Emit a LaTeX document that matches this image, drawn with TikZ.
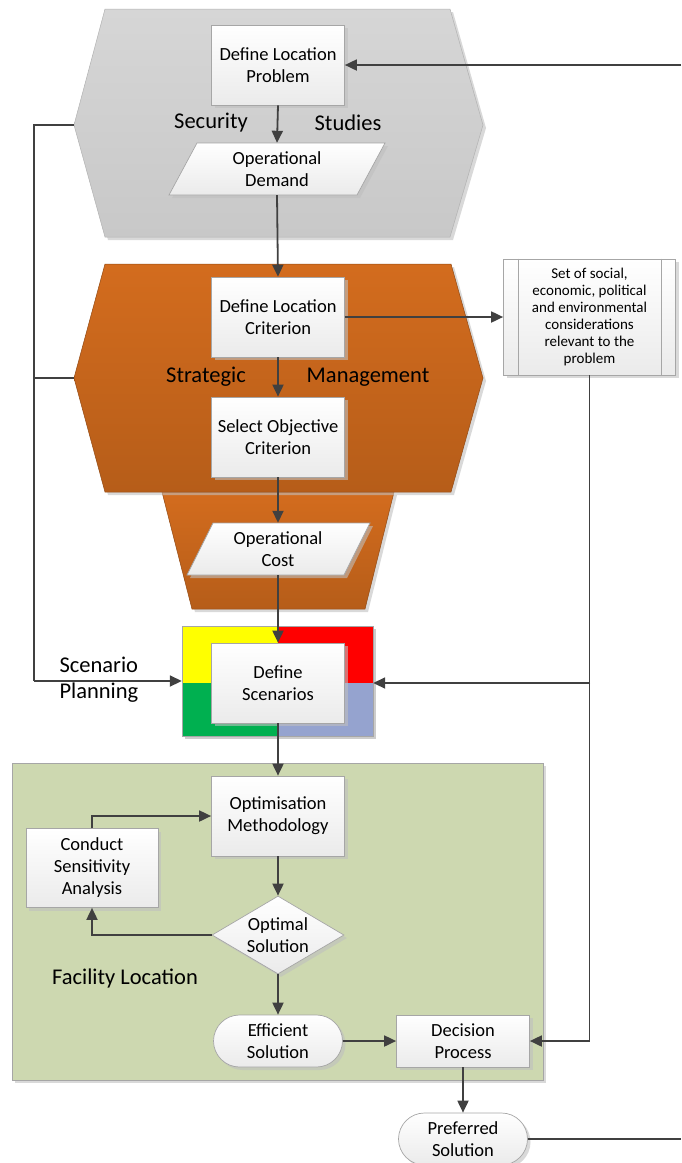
\documentclass[tikz,border=0pt]{standalone}
\usepackage{fontspec}
\setmainfont{Carlito}
\usetikzlibrary{arrows.meta,shapes.geometric,shapes.misc,shadows}

\definecolor{lineclr}{HTML}{404040}
\definecolor{boxedge}{HTML}{A6A6A6}
\definecolor{greyA}{HTML}{D6D6D6}
\definecolor{greyB}{HTML}{C8C8C8}
\definecolor{orangeA}{HTML}{D36C1E}
\definecolor{orangeB}{HTML}{B65D19}
\definecolor{faciltyfill}{HTML}{CDD8B0}
\definecolor{scnYellow}{HTML}{FFFF00}
\definecolor{scnRed}{HTML}{FF0000}
\definecolor{scnGreen}{HTML}{00B050}
\definecolor{scnBlue}{HTML}{95A3CF}

\newcommand{\boxfont}{\fontsize{18.5}{22}\selectfont}
\newcommand{\labelfont}{\fontsize{22.5}{26}\selectfont}
\newcommand{\notefont}{\fontsize{15}{17}\selectfont}

\tikzset{
  softshadow/.style={drop shadow={shadow xshift=3pt, shadow yshift=-3pt, fill=black!25, opacity=0.6}},
  stepbox/.style={draw=boxedge, line width=0.7pt, top color=white, bottom color=black!8,
    minimum width=133pt, minimum height=80pt, inner sep=2pt, align=center, font=\boxfont, softshadow},
  flatbox/.style={stepbox, minimum height=52pt},
  terminal/.style={stepbox, rounded rectangle, minimum height=52pt},
  decisionshape/.style={stepbox, diamond, minimum width=132pt, minimum height=78pt, inner sep=0pt},
  anchorbox/.style={inner sep=0pt, align=center, font=\boxfont},
  region/.style={draw=black!30, line width=0.5pt, softshadow},
  flow/.style={draw=lineclr, line width=1.8pt, -{Triangle[length=12pt,width=11pt]}},
  plainflow/.style={draw=lineclr, line width=1.8pt},
  biglabel/.style={font=\labelfont, text=black}
}

\begin{document}
\begin{tikzpicture}[x=1pt,y=-1pt]
\useasboundingbox (0,0) rectangle (681,1163);

% ---------- background regions ----------
% Security Studies
\path[region, top color=greyA, bottom color=greyB]
  (105,9) -- (450,9) -- (483,125) -- (450,237) -- (105,237) -- (74,125) -- cycle;
\coordinate (secW) at (74,125);
% Strategic Management (lower funnel first, hexagon on top)
\path[region, draw=orangeB!80!black, top color=orangeA, bottom color=orangeB]
  (162,492) -- (394,492) -- (365,609) -- (192,609) -- cycle;
\path[region, draw=orangeB!80!black, top color=orangeA, bottom color=orangeB]
  (105,264) -- (451,264) -- (483,378) -- (451,492) -- (105,492) -- (74,378) -- cycle;
\coordinate (stratW) at (74,378);
% Facility Location
\path[region, fill=faciltyfill, draw=black!35] (12,763) rectangle (543,1080);
% Scenario quadrants
\path[fill=black!20] (185,629) rectangle (376,739);
\fill[scnYellow] (182,626) rectangle (278,683);
\fill[scnRed] (278,626) rectangle (373,683);
\fill[scnGreen] (182,683) rectangle (278,736);
\fill[scnBlue] (278,683) rectangle (373,736);
\draw[black!35, line width=0.5pt] (182,626) rectangle (373,736);
\node[inner sep=0pt, minimum width=191pt, minimum height=110pt] (scen) at (277.5,681) {};

% ---------- labels ----------
\node[biglabel] (lblSec) at (211,123) {Security};
\node[biglabel] (lblStu) at (348,123) {Studies};
\node[biglabel] (lblStr) at (206,377) {Strategic};
\node[biglabel] (lblMan) at (368,377) {Management};
\node[biglabel, anchor=west, align=left] (lblScn) at (56,680) {Scenario\\Planning};
\node[biglabel] (lblFac) at (125,978) {Facility Location};

% ---------- process steps ----------
\node[stepbox] (dlp) at (278,65) {Define Location\\Problem};
\path[draw=boxedge, line width=0.7pt, top color=white, bottom color=black!8, softshadow]
  (197,143) -- (385,143) -- (357,195) -- (169,195) -- cycle;
\node[anchorbox, minimum width=160pt, minimum height=52pt] (od) at (277,169) {Operational\\Demand};

\node[stepbox] (dlc) at (278,317) {Define Location\\Criterion};
\node[stepbox] (soc) at (278,437) {Select Objective\\Criterion};
\path[draw=boxedge, line width=0.7pt, top color=white, bottom color=black!8, softshadow]
  (213,523) -- (370,523) -- (344,575) -- (187,575) -- cycle;
\node[anchorbox, minimum width=130pt, minimum height=52pt] (oc) at (278,549) {Operational\\Cost};

\node[stepbox, font=\notefont, minimum width=172pt, minimum height=116pt] (cons) at (589.5,317)
  {Set of social,\\economic, political\\and environmental\\considerations\\relevant to the\\problem};
\draw[boxedge, line width=0.7pt] ([xshift=15pt]cons.north west) -- ([xshift=15pt]cons.south west);
\draw[boxedge, line width=0.7pt] ([xshift=-15pt]cons.north east) -- ([xshift=-15pt]cons.south east);

\node[stepbox] (ds) at (278,683) {Define\\Scenarios};

\node[stepbox] (om) at (278,816) {Optimisation\\Methodology};
\node[stepbox, minimum width=132pt, minimum height=79pt] (csa) at (92,868) {Conduct\\Sensitivity\\Analysis};
\node[decisionshape] (os) at (278,935) {};
\node[anchorbox] (osText) at (os.center) {Optimal\\Solution};
\node[terminal] (es) at (278,1041) {Efficient\\Solution};
\node[flatbox] (dp) at (463,1041) {Decision\\Process};
\node[terminal] (ps) at (463,1139) {Preferred\\Solution};

% ---------- connectors ----------
\coordinate (loopIn) at (681,65);
\coordinate (loopOut) at (681,1139);
\coordinate (leftBus) at (34,681);
\coordinate (rightBus) at (590,683);

\draw[flow] (loopIn) -- (dlp.east);
\draw[flow] (dlp.south) -- (od.north);
\draw[flow] (od.south) -- (dlc.north);
\draw[flow] (dlc.east) -- (cons.west);
\draw[flow] (dlc.south) -- (soc.north);
\draw[flow] (soc.south) -- (oc.north);
\draw[flow] (oc.south) -- (ds.north);

\draw[plainflow] (secW) -| (leftBus);
\draw[plainflow] (stratW) -- (stratW -| leftBus);
\draw[flow] (leftBus) -- (scen.west |- leftBus);

\draw[flow] (cons.south) |- (dp.east);
\draw[flow] (rightBus) -- (scen.east |- rightBus);

\draw[flow] (ds.south) -- (om.north);
\draw[flow] (om.south) -- (os.north);
\draw[flow] (os.west) -| (csa.south);
\draw[flow] (csa.north) |- (om.west);
\draw[flow] (os.south) -- (es.north);
\draw[flow] (es.east) -- (dp.west);
\draw[flow] (dp.south) -- (ps.north);
\draw[plainflow] (ps.east) -- (loopOut);

\end{tikzpicture}
\end{document}
